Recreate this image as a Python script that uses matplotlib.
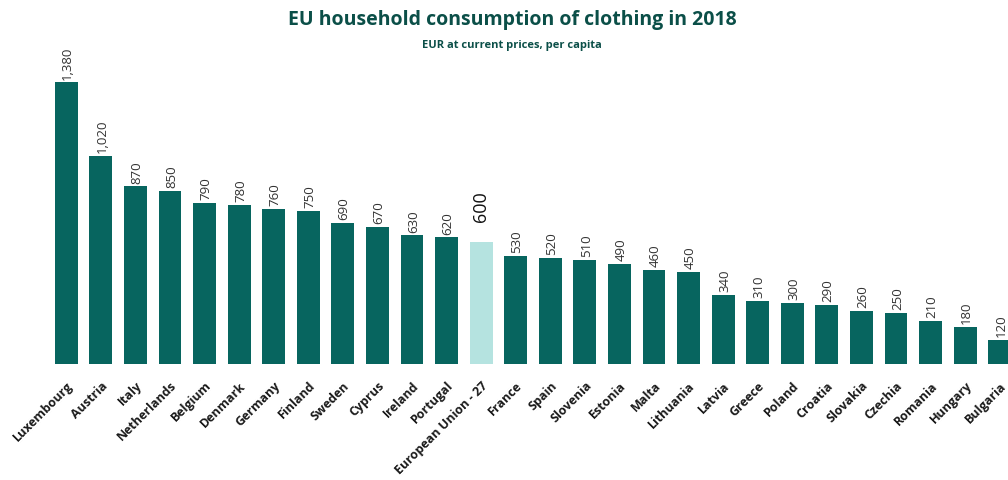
import matplotlib
matplotlib.use('Agg')
import matplotlib.pyplot as plt
import matplotlib.transforms as mtransforms

countries = ['Luxembourg', 'Austria', 'Italy', 'Netherlands', 'Belgium', 'Denmark',
             'Germany', 'Finland', 'Sweden', 'Cyprus', 'Ireland', 'Portugal',
             'European Union - 27', 'France', 'Spain', 'Slovenia', 'Estonia', 'Malta',
             'Lithuania', 'Latvia', 'Greece', 'Poland', 'Croatia', 'Slovakia',
             'Czechia', 'Romania', 'Hungary', 'Bulgaria']
spending = [1380, 1020, 870, 850, 790, 780, 760, 750, 690, 670, 630, 620,
            600, 530, 520, 510, 490, 460, 450, 340, 310, 300, 290, 260,
            250, 210, 180, 120]
eu_label = 'European Union - 27'

teal = '#07655f'
light_teal = '#b5e3e0'
title_col = '#0b4f48'

fig = plt.figure(figsize=(10.08, 4.8), dpi=100)
ax = fig.add_axes([49 / 1008, 116 / 480, 968 / 1008, 300 / 480])

x = list(range(len(countries)))
colors = [light_teal if c == eu_label else teal for c in countries]
bars = ax.bar(x, spending, width=0.665, color=colors)

for i, v in enumerate(spending):
    if countries[i] == eu_label:
        ax.annotate('{:,}'.format(v), (i, v), xytext=(0, 14), textcoords='offset points',
                    rotation=90, ha='center', va='bottom', fontsize=13,
                    color='#111111', family='Open Sans')
    else:
        ax.annotate('{:,}'.format(v), (i, v), xytext=(1, 2), textcoords='offset points',
                    rotation=90, ha='center', va='bottom', fontsize=9.5,
                    color='#333333', family='Open Sans')

ax.set_xlim(-0.5, len(countries) - 0.5)
ax.set_ylim(0, 1470)
ax.set_xticks(x)
ax.set_xticklabels(countries, rotation=45, ha='right', va='top', rotation_mode='anchor',
                   fontsize=9, fontweight='bold', family='Open Sans', color='#1a1a1a')
shift = mtransforms.ScaledTranslation(6 / 100, 0, fig.dpi_scale_trans)
for lab in ax.get_xticklabels():
    lab.set_transform(lab.get_transform() + shift)
ax.tick_params(axis='x', length=0, pad=11)
ax.set_yticks([])
for s in ax.spines.values():
    s.set_visible(False)

fig.text(0.508, 0.958, 'EU household consumption of clothing in 2018', ha='center', va='center',
         fontsize=14, fontweight='bold', family='Open Sans', color=title_col)
fig.text(0.508, 0.906, 'EUR at current prices, per capita', ha='center', va='center',
         fontsize=8, fontweight='bold', family='Open Sans', color=title_col)

fig.savefig('out.png', dpi=100)
